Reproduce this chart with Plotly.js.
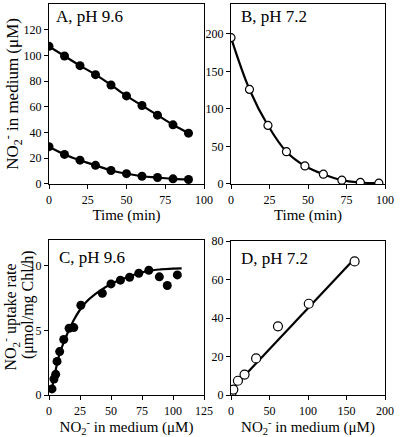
<!DOCTYPE html>
<html><head><meta charset="utf-8">
<script src="https://cdn.plot.ly/plotly-3.0.1.min.js"></script>
<style>body{margin:0;background:#fff}#chart{width:400px;height:437px}</style>
</head><body><div id="chart"></div>
<script>
// Panel A (pH 9.6)
const timeA = [0,10,20,30,40,50,60,70,80,90];
const nitriteA_high = [107,99.5,92,85,77,68.5,61,53.5,46,39.5];
const nitriteA_low = [29,23,18.5,14.5,10.5,8,6,5,4,3.5];
// Panel B (pH 7.2)
const timeB = [0,12,24,36,48,60,72,84,96];
const nitriteB = [195,126,78,43,24,13,5,2,1];
// Panel C (pH 9.6)
const concC = [2.4,4,5.4,6.5,8.6,11.9,16.2,20,25.7,43,50,57.6,65,72.4,80.5,89,95.4,103.5];
const rateC = [0.47,1.24,1.6,2.6,3.36,4.3,5.17,5.22,6.95,7.88,8.6,8.89,9.12,9.43,9.66,9.15,8.48,9.3];
const fitC_x = [2,4,6,8,10,15,20,25,30,40,50,60,70,80,90,100,107];
const fitC_y = [0.3,1.3,2.2,3.0,3.6,4.8,5.8,6.6,7.2,8.0,8.6,9.0,9.35,9.6,9.72,9.78,9.8];
// Panel D (pH 7.2)
const concD = [0.4,3,9,17.6,32.6,61,101,160.5];
const rateD = [0.7,2.8,7.4,10.6,19,35.7,47.4,69.4];
const fitD_x = [1,157];
const fitD_y = [3,69.4];

const F = 'Liberation Serif, Times New Roman, serif';
const filled = {symbol:'circle', size:9, color:'#000'};

const traces = [
  {x:timeA, y:nitriteA_high, mode:'lines+markers', line:{color:'#000',width:2.2,shape:'spline'}, marker:filled, xaxis:'x', yaxis:'y'},
  {x:timeA, y:nitriteA_low, mode:'lines+markers', line:{color:'#000',width:2.2,shape:'spline'}, marker:filled, xaxis:'x', yaxis:'y'},
  {x:timeB, y:nitriteB, mode:'lines', line:{color:'#000',width:2.2,shape:'spline'}, xaxis:'x2', yaxis:'y2'},
  {x:timeB, y:nitriteB, mode:'markers', marker:{symbol:'circle', size:8, color:'#fff', line:{width:1.2,color:'#000'}}, xaxis:'x2', yaxis:'y2'},
  {x:fitC_x, y:fitC_y, mode:'lines', line:{color:'#000',width:2.2,shape:'spline'}, xaxis:'x3', yaxis:'y3'},
  {x:concC, y:rateC, mode:'markers', marker:{symbol:'circle', size:9, color:'#000'}, xaxis:'x3', yaxis:'y3'},
  {x:fitD_x, y:fitD_y, mode:'lines', line:{color:'#000',width:2.2}, xaxis:'x4', yaxis:'y4'},
  {x:concD, y:rateD, mode:'markers', marker:{symbol:'circle', size:9, color:'#fff', line:{width:1.2,color:'#000'}}, xaxis:'x4', yaxis:'y4'}
];

function ax(extra){
  return Object.assign({showline:true, mirror:true, linecolor:'#000', linewidth:1.2,
    ticks:'outside', ticklen:4, tickwidth:1, tickcolor:'#000', showgrid:false, zeroline:false,
    tickfont:{family:F, size:12, color:'#000'}, automargin:false, fixedrange:true}, extra);
}
const nitTitle = 'NO<sub>2</sub><sup>-</sup> in medium (μM)';
const layout = {
  width:400, height:437, margin:{l:0,r:0,t:0,b:0}, showlegend:false,
  paper_bgcolor:'#fff', plot_bgcolor:'#fff', font:{family:F, color:'#000'},
  xaxis: ax({domain:[0.1225,0.51], range:[0,100], tickvals:[0,25,50,75,100], anchor:'y',
    title:{text:'Time (min)', font:{family:F,size:15}, standoff:2}}),
  yaxis: ax({domain:[0.579,0.991], range:[0,140], tickvals:[0,20,40,60,80,100,120], anchor:'x',
    title:{text:nitTitle, font:{family:F,size:17}, standoff:4}}),
  xaxis2: ax({domain:[0.5775,0.9625], range:[0,100], tickvals:[0,25,50,75,100], anchor:'y2',
    title:{text:'Time (min)', font:{family:F,size:15}, standoff:2}}),
  yaxis2: ax({domain:[0.579,0.991], range:[0,240], tickvals:[0,50,100,150,200], anchor:'x2'}),
  xaxis3: ax({domain:[0.1225,0.51], range:[0,125], tickvals:[0,25,50,75,100,125], anchor:'y3',
    title:{text:nitTitle, font:{family:F,size:15}, standoff:6}}),
  yaxis3: ax({domain:[0.0961,0.4508], range:[0,12], tickvals:[0,5,10], anchor:'x3'}),
  xaxis4: ax({domain:[0.5775,0.9625], range:[0,200], tickvals:[0,50,100,150,200], anchor:'y4',
    title:{text:nitTitle, font:{family:F,size:15}, standoff:6}}),
  yaxis4: ax({domain:[0.0961,0.4485], range:[0,80], tickvals:[0,20,40,60,80], anchor:'x4'}),
  annotations: [
    {text:'NO<sub>2</sub><sup>-</sup> uptake rate', xref:'paper', yref:'y3 domain', x:0.025, y:0.5, xanchor:'center', yanchor:'middle', textangle:-90, showarrow:false, font:{family:F,size:16}},
    {text:'(μmol/mg Chl/h)', xref:'paper', yref:'y3 domain', x:0.07, y:0.58, xanchor:'center', yanchor:'middle', textangle:-90, showarrow:false, font:{family:F,size:16}},
    {text:'A, pH 9.6', xref:'x domain', yref:'y domain', x:0.035, y:0.93, xanchor:'left', yanchor:'middle', showarrow:false, font:{family:F,size:17}},
    {text:'B, pH 7.2', xref:'x2 domain', yref:'y2 domain', x:0.05, y:0.93, xanchor:'left', yanchor:'middle', showarrow:false, font:{family:F,size:17}},
    {text:'C, pH 9.6', xref:'x3 domain', yref:'y3 domain', x:0.05, y:0.885, xanchor:'left', yanchor:'middle', showarrow:false, font:{family:F,size:17}},
    {text:'D, pH 7.2', xref:'x4 domain', yref:'y4 domain', x:0.05, y:0.885, xanchor:'left', yanchor:'middle', showarrow:false, font:{family:F,size:17}}
  ]
};
Plotly.newPlot('chart', traces, layout, {displayModeBar:false, staticPlot:true});
</script></body></html>
